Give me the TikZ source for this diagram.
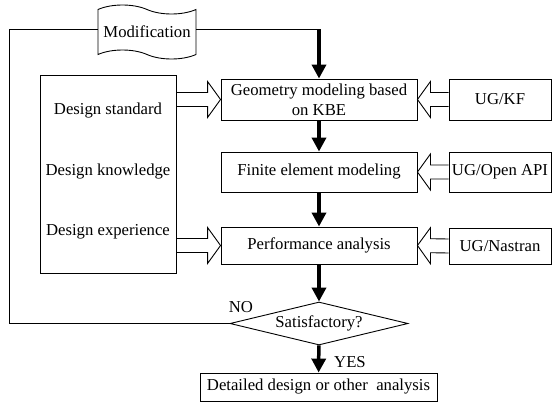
\documentclass[tikz,border=0pt]{standalone}
\usepackage{fontspec}
\setmainfont{Liberation Serif}
\usetikzlibrary{arrows.meta,calc,shapes.geometric,shapes.symbols}

% hollow block arrow between two points at the same height
\newcommand{\hollowarrow}[2]{%
  \draw[hollow]
    ($(#1)+(0,-7)$) -- ($(#2)!13pt!(#1)+(0,-7)$) -- ($(#2)!13pt!(#1)+(0,-18)$)
    -- (#2) -- ($(#2)!13pt!(#1)+(0,18)$) -- ($(#2)!13pt!(#1)+(0,7)$)
    -- ($(#1)+(0,7)$);}

\begin{document}
\begin{tikzpicture}[x=1pt, y=-1pt,
  every node/.style={font=\fontsize{16.7}{20}\selectfont},
  box/.style={draw, line width=0.9pt, minimum width=196pt, align=center, inner sep=2pt},
  tool/.style={draw, line width=0.9pt, minimum width=102pt, inner xsep=0pt},
  hollow/.style={line width=0.9pt},
  flow/.style={line width=3.5pt, -{Triangle[length=14pt, width=14pt]}},
  thin/.style={line width=0.9pt}]

  \useasboundingbox (0,0) rectangle (552,402);

  %% Main chain
  \node[box, minimum height=41pt] (geo) at (319,99.5) {Geometry modeling based\\on KBE};
  \node[box, minimum height=40pt] (fem) at (319,172) {Finite element modeling};
  \node[box, minimum height=37pt] (perf) at (319,245.5) {Performance analysis};
  \node[draw, diamond, line width=0.9pt, aspect=4, inner sep=0pt,
        minimum width=178pt, minimum height=43pt] (check) at (319,323.5) {Satisfactory?};
  \node[draw, line width=0.9pt, minimum width=237pt, minimum height=28pt] (detail)
        at (318.5,387) {Detailed design or other\ \ analysis};

  %% Tools on the right
  \node[tool, minimum height=41pt] (kf) at (500,99.5) {UG/KF};
  \node[tool, minimum height=40pt] (api) at (500,172) {UG/Open API};
  \node[tool, minimum height=36pt] (nastran) at (500,246) {UG/Nastran};

  %% Knowledge box on the left
  \node[draw, line width=0.9pt, minimum width=136pt, minimum height=198pt] (know) at (108,174) {};
  \node (std) at (108,111) {Design standard};
  \node (kno) at (108,172) {Design knowledge};
  \node (exp) at (108,232) {Design experience};

  %% Modification flag
  \node[draw, tape, line width=0.9pt, minimum width=98pt, minimum height=54pt,
        tape bend top=out and in, tape bend bottom=out and in,
        tape bend height=9pt, inner sep=1pt] (modif) at (147,32) {Modification};

  % Flow arrows
  \coordinate (turn) at (319,29);
  \draw[thin] (modif.east |- turn) -- (turn);
  \draw[flow] (turn) -- (geo.north);
  \draw[flow] (geo) -- (fem);
  \draw[flow] (fem) -- (perf);
  \draw[flow] (perf) -- (check);
  \draw[flow] (check) -- (detail);

  % Feedback loop
  \coordinate (loop) at (9,0);
  \draw[thin] (check.west) -- (loop |- check.west) -- (loop |- turn) -- (modif.west |- turn);

  % Hollow arrows
  \hollowarrow{know.east |- geo.west}{geo.west}
  \hollowarrow{know.east |- perf.west}{perf.west}
  \hollowarrow{kf.west}{geo.east}
  \hollowarrow{api.west}{fem.east}
  \hollowarrow{nastran.west}{perf.east}

  % Labels
  \node (no) at (241,307) {NO};
  \node (yes) at (350,362) {YES};
\end{tikzpicture}
\end{document}
